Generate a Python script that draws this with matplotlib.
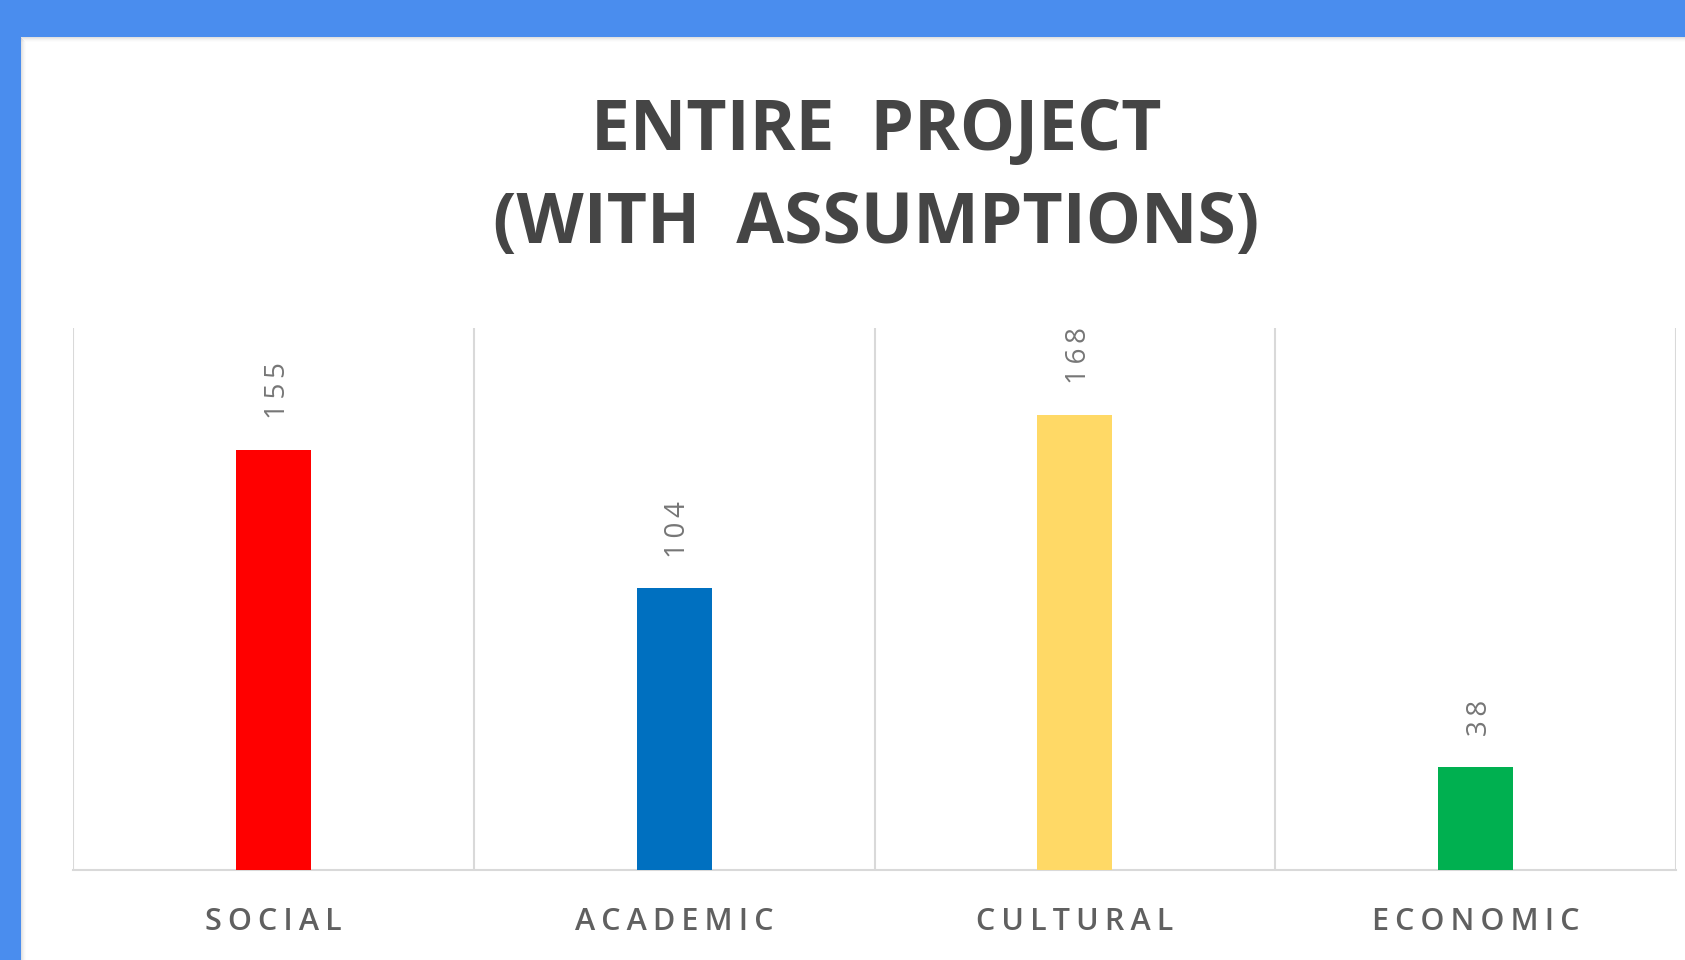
import matplotlib
matplotlib.use("Agg")
import matplotlib.pyplot as plt
from matplotlib.patches import Rectangle

# ---- data ----
categories = ["SOCIAL", "ACADEMIC", "CULTURAL", "ECONOMIC"]
values = [155, 104, 168, 38]
bar_colors = ["#FF0000", "#0070C0", "#FFD966", "#00B050"]
title_lines = ["ENTIRE  PROJECT", "(WITH  ASSUMPTIONS)"]

FAM = ["Open Sans", "DejaVu Sans"]
THIN = "\u2009"


def spaced(s, sep=THIN):
    return sep.join(list(s))


W, H = 1685, 960
fig = plt.figure(figsize=(W / 100, H / 100), dpi=100)
fig.patch.set_facecolor("#4A8DEE")

# white panel with soft inner shadow on top/left edges
px0, py1 = 21 / W, 1 - 37 / H
fig.patches.append(Rectangle((px0, 0), 1 - px0, py1, transform=fig.transFigure,
                             facecolor="white", edgecolor="none", zorder=-3))
for i, a in enumerate([0.22, 0.15, 0.09, 0.05, 0.02]):
    fig.patches.append(Rectangle((px0, py1 - (i + 1) / H), 1 - px0, 1 / H,
                                 transform=fig.transFigure, facecolor="#777777",
                                 alpha=a, edgecolor="none", zorder=-2))
    fig.patches.append(Rectangle((px0 + i / W, 0), 1 / W, py1 - (i + 1) / H,
                                 transform=fig.transFigure, facecolor="#777777",
                                 alpha=a, edgecolor="none", zorder=-2))

ax = fig.add_axes([73 / W, 90 / H, (1676 - 73) / W, (870 - 328) / H])
ax.set_facecolor("none")
x = list(range(len(categories)))
bars = ax.bar(x, values, width=0.187, color=bar_colors, zorder=3)
ax.set_xlim(-0.5, len(categories) - 0.5)
ax.set_ylim(0, 200)

for rect, v in zip(bars, values):
    ax.annotate(spaced(str(v)), (rect.get_x() + rect.get_width() / 2, rect.get_height()),
                xytext=(3, 22), textcoords="offset points", rotation=90,
                ha="center", va="bottom", fontsize=20, color="#767676",
                family=FAM)

ax.set_xticks(x)
ax.set_xticklabels([spaced(c) for c in categories], fontsize=22,
                   color="#606060", family=FAM, fontweight="semibold")
ax.tick_params(axis="x", length=0, pad=27)
ax.set_xticks([i - 0.5 for i in range(len(categories) + 1)], minor=True)
ax.tick_params(axis="x", which="minor", length=0)
ax.grid(True, axis="x", which="minor", color="#D9D9D9", linewidth=1.5, zorder=0)
ax.set_yticks([])
for s in ["top", "left", "right"]:
    ax.spines[s].set_visible(False)
ax.spines["bottom"].set_color("#D9D9D9")
ax.spines["bottom"].set_linewidth(1.5)

for line, yb in zip(title_lines, [150, 243]):
    fig.text(876 / W, 1 - yb / H, line, ha="center", va="baseline",
             fontsize=50, fontweight="bold", color="#454545", family=FAM)

fig.savefig("out.png", dpi=100, facecolor=fig.get_facecolor())
